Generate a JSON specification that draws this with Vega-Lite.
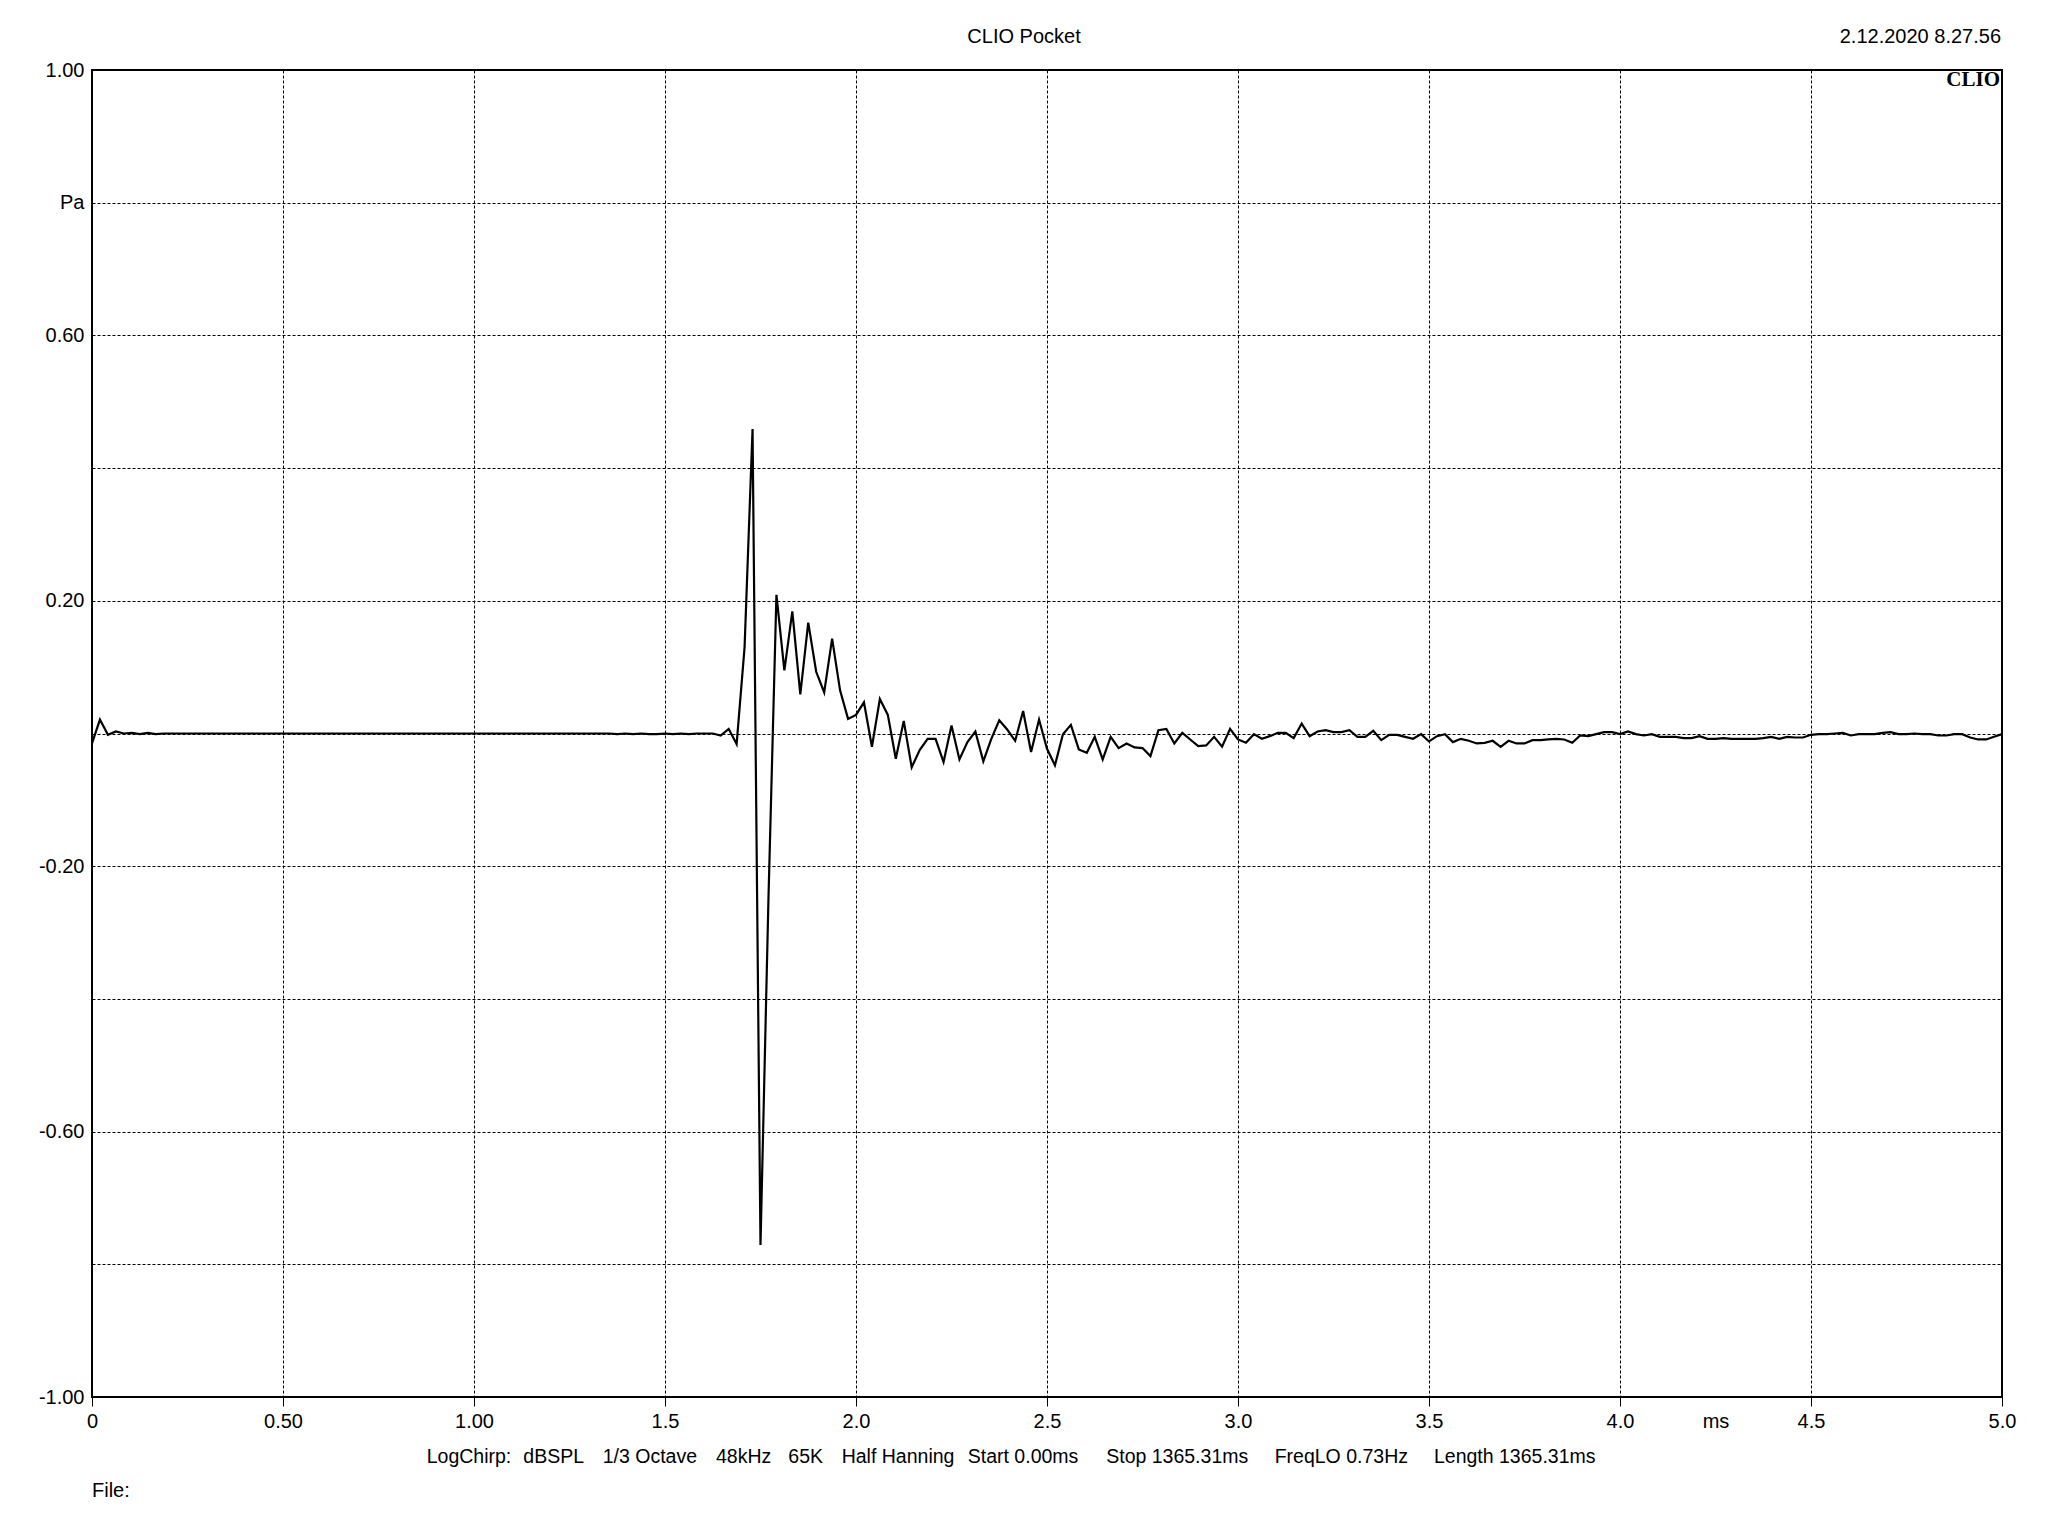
{
  "$schema": "https://vega.github.io/schema/vega-lite/v6.json",
  "width": 1910,
  "height": 1327,
  "autosize": {"type": "none"},
  "padding": {"left": 92, "top": 70, "right": 46, "bottom": 139},
  "background": "white",
  "config": {
    "view": {"stroke": "black", "strokeWidth": 2},
    "font": "Liberation Sans",
    "text": {"font": "Liberation Sans", "fontSize": 20, "color": "black"}
  },
  "data": {
    "values": [
      {"t": 0, "p": -0.015}, {"t": 0.0208, "p": 0.021}, {"t": 0.0417, "p": -0.002}, {"t": 0.0625, "p": 0.003},
      {"t": 0.0833, "p": 0}, {"t": 0.1042, "p": 0.001}, {"t": 0.125, "p": -0.001}, {"t": 0.1458, "p": 0.001},
      {"t": 0.1667, "p": -0.001}, {"t": 0.1875, "p": 0}, {"t": 0.2083, "p": 0}, {"t": 0.2292, "p": 0},
      {"t": 0.25, "p": 0}, {"t": 0.2708, "p": 0}, {"t": 0.2917, "p": 0}, {"t": 0.3125, "p": 0},
      {"t": 0.3333, "p": 0}, {"t": 0.3542, "p": 0}, {"t": 0.375, "p": 0}, {"t": 0.3958, "p": 0},
      {"t": 0.4167, "p": 0}, {"t": 0.4375, "p": 0}, {"t": 0.4583, "p": 0}, {"t": 0.4792, "p": 0},
      {"t": 0.5, "p": 0}, {"t": 0.5208, "p": 0}, {"t": 0.5417, "p": 0}, {"t": 0.5625, "p": 0},
      {"t": 0.5833, "p": 0}, {"t": 0.6042, "p": 0}, {"t": 0.625, "p": 0}, {"t": 0.6458, "p": 0},
      {"t": 0.6667, "p": 0}, {"t": 0.6875, "p": 0}, {"t": 0.7083, "p": 0}, {"t": 0.7292, "p": 0},
      {"t": 0.75, "p": 0}, {"t": 0.7708, "p": 0}, {"t": 0.7917, "p": 0}, {"t": 0.8125, "p": 0},
      {"t": 0.8333, "p": 0}, {"t": 0.8542, "p": 0}, {"t": 0.875, "p": 0}, {"t": 0.8958, "p": 0},
      {"t": 0.9167, "p": 0}, {"t": 0.9375, "p": 0}, {"t": 0.9583, "p": 0}, {"t": 0.9792, "p": 0},
      {"t": 1, "p": 0}, {"t": 1.0208, "p": 0}, {"t": 1.0417, "p": 0}, {"t": 1.0625, "p": 0},
      {"t": 1.0833, "p": 0}, {"t": 1.1042, "p": 0}, {"t": 1.125, "p": 0}, {"t": 1.1458, "p": 0},
      {"t": 1.1667, "p": 0}, {"t": 1.1875, "p": 0}, {"t": 1.2083, "p": 0}, {"t": 1.2292, "p": 0},
      {"t": 1.25, "p": 0}, {"t": 1.2708, "p": 0}, {"t": 1.2917, "p": 0}, {"t": 1.3125, "p": 0},
      {"t": 1.3333, "p": 0}, {"t": 1.3542, "p": 0}, {"t": 1.375, "p": -0.001}, {"t": 1.3958, "p": 0},
      {"t": 1.4167, "p": -0.001}, {"t": 1.4375, "p": 0}, {"t": 1.4583, "p": -0.001}, {"t": 1.4792, "p": -0.001},
      {"t": 1.5, "p": 0}, {"t": 1.5208, "p": -0.001}, {"t": 1.5417, "p": 0}, {"t": 1.5625, "p": -0.001},
      {"t": 1.5833, "p": 0}, {"t": 1.6042, "p": 0}, {"t": 1.625, "p": 0}, {"t": 1.6458, "p": -0.003},
      {"t": 1.6667, "p": 0.007}, {"t": 1.6875, "p": -0.016}, {"t": 1.7083, "p": 0.13}, {"t": 1.7292, "p": 0.459},
      {"t": 1.75, "p": -0.771}, {"t": 1.7708, "p": -0.25}, {"t": 1.7917, "p": 0.209}, {"t": 1.8125, "p": 0.095},
      {"t": 1.8333, "p": 0.184}, {"t": 1.8542, "p": 0.059}, {"t": 1.875, "p": 0.167}, {"t": 1.8958, "p": 0.093},
      {"t": 1.9167, "p": 0.062}, {"t": 1.9375, "p": 0.143}, {"t": 1.9583, "p": 0.065}, {"t": 1.9792, "p": 0.022},
      {"t": 2, "p": 0.028}, {"t": 2.0208, "p": 0.047}, {"t": 2.0417, "p": -0.02}, {"t": 2.0625, "p": 0.052},
      {"t": 2.0833, "p": 0.028}, {"t": 2.1042, "p": -0.038}, {"t": 2.125, "p": 0.019}, {"t": 2.1458, "p": -0.051},
      {"t": 2.1667, "p": -0.025}, {"t": 2.1875, "p": -0.008}, {"t": 2.2083, "p": -0.008}, {"t": 2.2292, "p": -0.043},
      {"t": 2.25, "p": 0.012}, {"t": 2.2708, "p": -0.039}, {"t": 2.2917, "p": -0.013}, {"t": 2.3125, "p": 0.003},
      {"t": 2.3333, "p": -0.042}, {"t": 2.3542, "p": -0.008}, {"t": 2.375, "p": 0.02}, {"t": 2.3958, "p": 0.006},
      {"t": 2.4167, "p": -0.011}, {"t": 2.4375, "p": 0.034}, {"t": 2.4583, "p": -0.028}, {"t": 2.4792, "p": 0.021},
      {"t": 2.5, "p": -0.023}, {"t": 2.5208, "p": -0.048}, {"t": 2.5417, "p": -0.001}, {"t": 2.5625, "p": 0.013},
      {"t": 2.5833, "p": -0.024}, {"t": 2.6042, "p": -0.029}, {"t": 2.625, "p": -0.005}, {"t": 2.6458, "p": -0.039},
      {"t": 2.6667, "p": -0.005}, {"t": 2.6875, "p": -0.022}, {"t": 2.7083, "p": -0.015}, {"t": 2.7292, "p": -0.021},
      {"t": 2.75, "p": -0.022}, {"t": 2.7708, "p": -0.034}, {"t": 2.7917, "p": 0.005}, {"t": 2.8125, "p": 0.007},
      {"t": 2.8333, "p": -0.015}, {"t": 2.8542, "p": 0.001}, {"t": 2.875, "p": -0.009}, {"t": 2.8958, "p": -0.019},
      {"t": 2.9167, "p": -0.018}, {"t": 2.9375, "p": -0.005}, {"t": 2.9583, "p": -0.02}, {"t": 2.9792, "p": 0.007},
      {"t": 3, "p": -0.009}, {"t": 3.0208, "p": -0.014}, {"t": 3.0417, "p": -0.001}, {"t": 3.0625, "p": -0.008},
      {"t": 3.0833, "p": -0.004}, {"t": 3.1042, "p": 0.001}, {"t": 3.125, "p": 0.001}, {"t": 3.1458, "p": -0.007},
      {"t": 3.1667, "p": 0.015}, {"t": 3.1875, "p": -0.004}, {"t": 3.2083, "p": 0.003}, {"t": 3.2292, "p": 0.005},
      {"t": 3.25, "p": 0.002}, {"t": 3.2708, "p": 0.002}, {"t": 3.2917, "p": 0.005}, {"t": 3.3125, "p": -0.005},
      {"t": 3.3333, "p": -0.005}, {"t": 3.3542, "p": 0.004}, {"t": 3.375, "p": -0.01}, {"t": 3.3958, "p": -0.002},
      {"t": 3.4167, "p": -0.002}, {"t": 3.4375, "p": -0.005}, {"t": 3.4583, "p": -0.008}, {"t": 3.4792, "p": -0.001},
      {"t": 3.5, "p": -0.012}, {"t": 3.5208, "p": -0.004}, {"t": 3.5417, "p": -0.001}, {"t": 3.5625, "p": -0.013},
      {"t": 3.5833, "p": -0.008}, {"t": 3.6042, "p": -0.011}, {"t": 3.625, "p": -0.015}, {"t": 3.6458, "p": -0.014},
      {"t": 3.6667, "p": -0.011}, {"t": 3.6875, "p": -0.02}, {"t": 3.7083, "p": -0.011}, {"t": 3.7292, "p": -0.015},
      {"t": 3.75, "p": -0.015}, {"t": 3.7708, "p": -0.01}, {"t": 3.7917, "p": -0.01}, {"t": 3.8125, "p": -0.009},
      {"t": 3.8333, "p": -0.008}, {"t": 3.8542, "p": -0.009}, {"t": 3.875, "p": -0.014}, {"t": 3.8958, "p": -0.003},
      {"t": 3.9167, "p": -0.004}, {"t": 3.9375, "p": -0.001}, {"t": 3.9583, "p": 0.002}, {"t": 3.9792, "p": 0.002},
      {"t": 4, "p": -0.001}, {"t": 4.0208, "p": 0.003}, {"t": 4.0417, "p": -0.001}, {"t": 4.0625, "p": -0.003},
      {"t": 4.0833, "p": -0.001}, {"t": 4.1042, "p": -0.005}, {"t": 4.125, "p": -0.005}, {"t": 4.1458, "p": -0.005},
      {"t": 4.1667, "p": -0.007}, {"t": 4.1875, "p": -0.007}, {"t": 4.2083, "p": -0.004}, {"t": 4.2292, "p": -0.008},
      {"t": 4.25, "p": -0.008}, {"t": 4.2708, "p": -0.007}, {"t": 4.2917, "p": -0.008}, {"t": 4.3125, "p": -0.008},
      {"t": 4.3333, "p": -0.008}, {"t": 4.3542, "p": -0.008}, {"t": 4.375, "p": -0.007}, {"t": 4.3958, "p": -0.005},
      {"t": 4.4167, "p": -0.008}, {"t": 4.4375, "p": -0.005}, {"t": 4.4583, "p": -0.006}, {"t": 4.4792, "p": -0.006},
      {"t": 4.5, "p": -0.002}, {"t": 4.5208, "p": -0.001}, {"t": 4.5417, "p": -0.001}, {"t": 4.5625, "p": 0},
      {"t": 4.5833, "p": 0.001}, {"t": 4.6042, "p": -0.003}, {"t": 4.625, "p": -0.001}, {"t": 4.6458, "p": -0.001},
      {"t": 4.6667, "p": -0.001}, {"t": 4.6875, "p": 0.001}, {"t": 4.7083, "p": 0.002}, {"t": 4.7292, "p": -0.001},
      {"t": 4.75, "p": -0.001}, {"t": 4.7708, "p": 0}, {"t": 4.7917, "p": -0.001}, {"t": 4.8125, "p": -0.001},
      {"t": 4.8333, "p": -0.003}, {"t": 4.8542, "p": -0.003}, {"t": 4.875, "p": -0.001}, {"t": 4.8958, "p": -0.001},
      {"t": 4.9167, "p": -0.006}, {"t": 4.9375, "p": -0.009}, {"t": 4.9583, "p": -0.009}, {"t": 4.9792, "p": -0.005},
      {"t": 5, "p": -0.001}
    ]
  },
  "layer": [
    {
      "mark": {"type": "line", "color": "black", "strokeWidth": 2.2},
      "encoding": {
        "x": {
          "field": "t", "type": "quantitative",
          "scale": {"domain": [0, 5], "nice": false, "zero": false},
          "axis": {
            "title": null,
            "values": [0, 0.5, 1, 1.5, 2, 2.5, 3, 3.5, 4, 4.25, 4.5, 5],
            "labelExpr": "datum.value == 4.25 ? 'ms' : (datum.value == 0 ? '0' : (datum.value <= 1 ? format(datum.value, '.2f') : format(datum.value, '.1f')))",
            "domain": false,
            "grid": true,
            "gridColor": "black",
            "gridDash": [3, 2],
            "gridWidth": 1,
            "gridOpacity": {"condition": {"test": "datum.value == 4.25 || datum.value == 0 || datum.value == 5", "value": 0}, "value": 1},
            "ticks": true,
            "tickSize": 9,
            "tickColor": "black",
            "tickWidth": 1,
            "tickOpacity": {"condition": {"test": "datum.value == 4.25", "value": 0}, "value": 1},
            "labelFont": "Liberation Sans",
            "labelFontSize": 20,
            "labelColor": "black",
            "labelPadding": 5,
            "labelFlush": false,
            "labelOverlap": false
          }
        },
        "y": {
          "field": "p", "type": "quantitative",
          "scale": {"domain": [-1, 1], "nice": false, "zero": false},
          "axis": {
            "title": null,
            "values": [-1, -0.8, -0.6, -0.4, -0.2, 0, 0.2, 0.4, 0.6, 0.8, 1],
            "labelExpr": "round(datum.value * 10) == 8 ? 'Pa' : (abs(round(datum.value * 10)) % 4 == 2 ? (datum.value < 0 ? '-' : '') + format(abs(datum.value), '.2f') : '')",
            "domain": false,
            "grid": true,
            "gridColor": "black",
            "gridDash": [3, 2],
            "gridWidth": 1,
            "gridOpacity": {"condition": {"test": "abs(datum.value) > 0.99", "value": 0}, "value": 1},
            "ticks": false,
            "tickSize": 0,
            "labelFont": "Liberation Sans",
            "labelFontSize": 20,
            "labelColor": "black",
            "labelPadding": 8,
            "labelOverlap": false,
            "labelFlush": false
          }
        }
      }
    },
    {
      "data": {"values": [{}]},
      "mark": {"type": "text", "text": "CLIO Pocket", "align": "center", "baseline": "alphabetic"},
      "encoding": {"x": {"datum": 2.4398, "title": null}, "y": {"datum": 1.0412, "title": null}}
    },
    {
      "data": {"values": [{}]},
      "mark": {"type": "text", "text": "2.12.2020 8.27.56", "align": "right", "baseline": "alphabetic"},
      "encoding": {"x": {"datum": 4.9974, "title": null}, "y": {"datum": 1.0412, "title": null}}
    },
    {
      "data": {"values": [{}]},
      "mark": {"type": "text", "text": "CLIO", "align": "right", "baseline": "alphabetic", "font": "Liberation Serif", "fontWeight": "bold", "fontSize": 21},
      "encoding": {"x": {"datum": 4.9948, "title": null}, "y": {"datum": 0.9759, "title": null}}
    },
    {
      "data": {"values": [{}]},
      "mark": {"type": "text", "text": "LogChirp:", "align": "left", "baseline": "alphabetic", "fontSize": 19.5},
      "encoding": {"x": {"datum": 0.8762, "title": null}, "y": {"datum": -1.099, "title": null}}
    },
    {
      "data": {"values": [{}]},
      "mark": {"type": "text", "text": "dBSPL", "align": "left", "baseline": "alphabetic", "fontSize": 19.5},
      "encoding": {"x": {"datum": 1.1291, "title": null}, "y": {"datum": -1.099, "title": null}}
    },
    {
      "data": {"values": [{}]},
      "mark": {"type": "text", "text": "1/3 Octave", "align": "left", "baseline": "alphabetic", "fontSize": 19.5},
      "encoding": {"x": {"datum": 1.3369, "title": null}, "y": {"datum": -1.099, "title": null}}
    },
    {
      "data": {"values": [{}]},
      "mark": {"type": "text", "text": "48kHz", "align": "left", "baseline": "alphabetic", "fontSize": 19.5},
      "encoding": {"x": {"datum": 1.6335, "title": null}, "y": {"datum": -1.099, "title": null}}
    },
    {
      "data": {"values": [{}]},
      "mark": {"type": "text", "text": "65K", "align": "left", "baseline": "alphabetic", "fontSize": 19.5},
      "encoding": {"x": {"datum": 1.8228, "title": null}, "y": {"datum": -1.099, "title": null}}
    },
    {
      "data": {"values": [{}]},
      "mark": {"type": "text", "text": "Half Hanning", "align": "left", "baseline": "alphabetic", "fontSize": 19.5},
      "encoding": {"x": {"datum": 1.9625, "title": null}, "y": {"datum": -1.099, "title": null}}
    },
    {
      "data": {"values": [{}]},
      "mark": {"type": "text", "text": "Start 0.00ms", "align": "left", "baseline": "alphabetic", "fontSize": 19.5},
      "encoding": {"x": {"datum": 2.2926, "title": null}, "y": {"datum": -1.099, "title": null}}
    },
    {
      "data": {"values": [{}]},
      "mark": {"type": "text", "text": "Stop 1365.31ms", "align": "left", "baseline": "alphabetic", "fontSize": 19.5},
      "encoding": {"x": {"datum": 2.655, "title": null}, "y": {"datum": -1.099, "title": null}}
    },
    {
      "data": {"values": [{}]},
      "mark": {"type": "text", "text": "FreqLO 0.73Hz", "align": "left", "baseline": "alphabetic", "fontSize": 19.5},
      "encoding": {"x": {"datum": 3.096, "title": null}, "y": {"datum": -1.099, "title": null}}
    },
    {
      "data": {"values": [{}]},
      "mark": {"type": "text", "text": "Length 1365.31ms", "align": "left", "baseline": "alphabetic", "fontSize": 19.5},
      "encoding": {"x": {"datum": 3.513, "title": null}, "y": {"datum": -1.099, "title": null}}
    },
    {
      "data": {"values": [{}]},
      "mark": {"type": "text", "text": "File:", "align": "left", "baseline": "alphabetic"},
      "encoding": {"x": {"datum": 0, "title": null}, "y": {"datum": -1.1507, "title": null}}
    }
  ]
}
